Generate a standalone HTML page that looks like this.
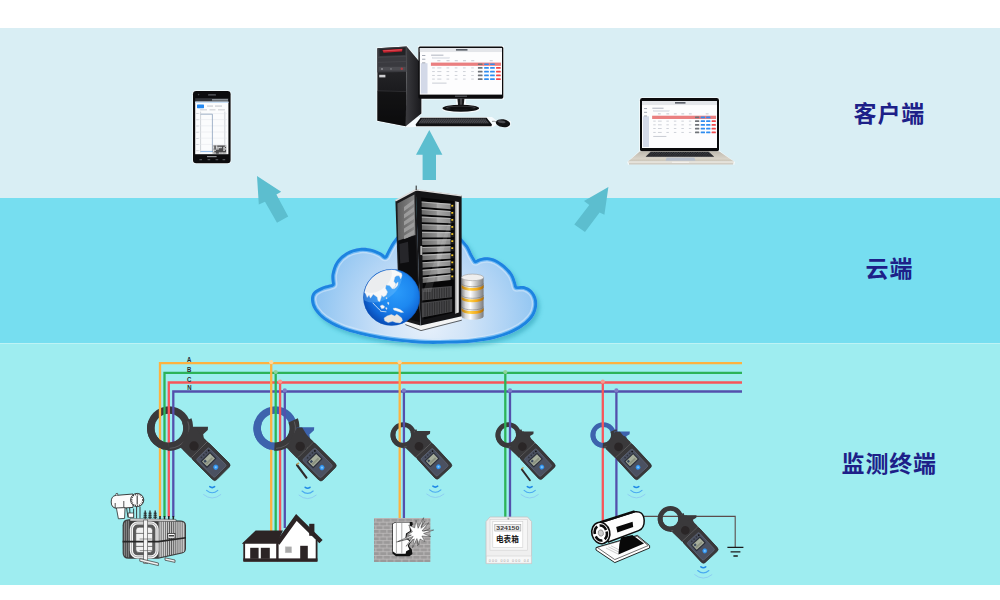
<!DOCTYPE html>
<html lang="zh"><head><meta charset="utf-8"><title>系统架构</title>
<style>
html,body{margin:0;padding:0;background:#fff;}
body{width:1000px;height:600px;overflow:hidden;position:relative;font-family:"Liberation Sans","Noto Sans CJK SC",sans-serif;}
.band{position:absolute;left:0;width:1000px;}
.b1{top:28px;height:170px;background:#d9eef4;}
.b2{top:198px;height:145px;background:#76def0;}
.b3{top:343px;height:242px;background:#9eedf0;}
svg{position:absolute;left:0;top:0;}
.lbl{position:absolute;color:#1d2088;font-weight:bold;font-size:23px;line-height:28px;white-space:nowrap;letter-spacing:0.8px;}
</style></head><body>
<div class="band b1"></div><div class="band b2"></div><div class="band b3"></div><div class="band" style="top:343px;height:1px;background:#bdf3f5"></div>
<svg width="1000" height="600" viewBox="0 0 1000 600" font-family="'Liberation Sans','Noto Sans CJK SC',sans-serif">
<defs>

<linearGradient id="gBody" x1="0" y1="0" x2="0" y2="1">
 <stop offset="0" stop-color="#444346"/><stop offset="1" stop-color="#343335"/>
</linearGradient>
<radialGradient id="gBtn" cx="0.5" cy="0.5" r="0.5">
 <stop offset="0" stop-color="#9fd6ff"/><stop offset="0.55" stop-color="#3d9df2"/><stop offset="1" stop-color="#2c86e0"/>
</radialGradient>
<radialGradient id="gCloud" gradientUnits="userSpaceOnUse" cx="428" cy="318" r="122" fx="428" fy="326">
 <stop offset="0" stop-color="#e6f0fb"/><stop offset="0.3" stop-color="#d3e5f8"/><stop offset="0.62" stop-color="#b1d4f5"/><stop offset="0.85" stop-color="#97c8f2"/><stop offset="1" stop-color="#88bff0"/>
</radialGradient>
<radialGradient id="gGlobe" gradientUnits="userSpaceOnUse" cx="396" cy="292" r="34">
 <stop offset="0" stop-color="#2b9bfa"/><stop offset="0.5" stop-color="#1d88f0"/><stop offset="0.82" stop-color="#0f66d6"/><stop offset="1" stop-color="#0a4fb8"/>
</radialGradient>
<linearGradient id="gDb" x1="0" y1="0" x2="1" y2="0">
 <stop offset="0" stop-color="#8a8a8a"/><stop offset="0.18" stop-color="#d8d8d8"/><stop offset="0.4" stop-color="#ffffff"/><stop offset="0.7" stop-color="#bdbdbd"/><stop offset="1" stop-color="#7c7c7c"/>
</linearGradient>
<linearGradient id="gGold" x1="0" y1="0" x2="1" y2="0">
 <stop offset="0" stop-color="#b87a10"/><stop offset="0.35" stop-color="#ffd24a"/><stop offset="0.7" stop-color="#f2a818"/><stop offset="1" stop-color="#a86c0c"/>
</linearGradient>
<linearGradient id="gTower" x1="0" y1="0" x2="0" y2="1">
 <stop offset="0" stop-color="#2e2e31"/><stop offset="0.5" stop-color="#1d1d20"/><stop offset="1" stop-color="#0c0c0e"/>
</linearGradient>
<linearGradient id="gTowerSide" x1="0" y1="0" x2="1" y2="0">
 <stop offset="0" stop-color="#3a3a3e"/><stop offset="1" stop-color="#18181b"/>
</linearGradient>
<linearGradient id="gLapBase" x1="0" y1="0" x2="0" y2="1">
 <stop offset="0" stop-color="#bdb8ae"/><stop offset="0.7" stop-color="#d8d3c8"/><stop offset="1" stop-color="#c9c3b6"/>
</linearGradient>
<linearGradient id="gUnit" x1="0" y1="0" x2="1" y2="0">
 <stop offset="0" stop-color="#6a6a6a"/><stop offset="0.5" stop-color="#8e8e8e"/><stop offset="0.55" stop-color="#a9a9a9"/><stop offset="1" stop-color="#8a8a8a"/>
</linearGradient>
<linearGradient id="gSideGlass" x1="0" y1="0" x2="1" y2="0">
 <stop offset="0" stop-color="#5e5e5e"/><stop offset="1" stop-color="#8a8a8a"/>
</linearGradient>
<pattern id="brick" x="374" y="518" width="7.4" height="7.4" patternUnits="userSpaceOnUse">
 <rect width="7.4" height="7.4" fill="#9b9999"/>
 <path d="M0 0.4H7.4M0 4.1H7.4M1.8 0.4V4.1M5.5 4.1V7.4" stroke="#bfbdbd" stroke-width="0.8" fill="none"/>
</pattern>
<pattern id="fins" x="158.6" y="0" width="2.1" height="10" patternUnits="userSpaceOnUse">
 <rect width="2.1" height="10" fill="#d2d2d2"/><rect width="0.9" height="10" fill="#555"/>
</pattern>


<g id="cbody">
 <g transform="rotate(45)">
  <rect x="-6" y="-12.7" width="44.5" height="23.3" rx="3" fill="#3a393b"/>
  <rect x="6.5" y="-12.7" width="33.4" height="23.3" rx="3" fill="#39383a" stroke="#2c2a2b" stroke-width="0.6"/>
  <line x1="6.4" y1="-11.8" x2="6.4" y2="9.8" stroke="#9a9a9a" stroke-width="0.6" stroke-dasharray="1 0.5"/>
  <rect x="11.2" y="-9.3" width="25.6" height="17.4" rx="1.6" fill="#4b5161" stroke="#62697a" stroke-width="0.7"/>
  <rect x="15.4" y="-7.2" width="9.4" height="13.6" rx="0.6" fill="#2b2f39"/>
  <rect x="16.6" y="-6" width="7" height="11.2" fill="#a7ae9c"/>
  <rect x="17.4" y="1.6" width="2.4" height="2.6" fill="#3b4a5e"/><rect x="20.4" y="-4.6" width="2" height="8.8" fill="#8a917f"/>
  
  <circle cx="13.3" cy="-4" r="0.9" fill="#30333c"/><circle cx="13.3" cy="-0.6" r="0.9" fill="#30333c"/><circle cx="13.3" cy="2.8" r="0.9" fill="#30333c"/>
  <circle cx="13.6" cy="-7.2" r="0.9" fill="#111"/>
  <circle cx="30.4" cy="-0.4" r="2.6" fill="url(#gBtn)"/>
 </g>
 <circle cx="0" cy="0" r="4.7" fill="#2a2627"/>
</g>
<path id="neckB" d="M -3 -19 L 2 -19 L 10 -6 L 12 -6 L -3.5 11.5 L -13.8 1.2 Z" fill="#3a393b"/>
<path id="trigB" d="M -3.4 -19.2 L 14 -19.2 L 13.8 -16.3 L 9.2 -11.8 L 10 -6.5 L 12.2 -5.8 L 4 0 L -6 -8 Z"/>
<path id="neckS" d="M -3.6 -15 L 2 -15 L 10 -6 L 12 -6 L -3.5 11.5 L -13.1 1.9 Z" fill="#3a393b"/>
<path id="trigS" d="M -3.8 -15.2 L 11 -15.2 L 10.9 -12.6 L 8.4 -10 L 9.6 -6.4 L 12.2 -5.8 L 4 0 L -6 -8 Z"/>
<g id="sig" fill="none" stroke-linecap="round">
 <path d="M 15.8 40.7 Q 18.2 42.5 20.6 40.7" stroke="#1f88e6" stroke-width="1.6"/>
 <path d="M 12.6 44.4 Q 18.2 49.2 23.8 44.4" stroke="#4aaaf0" stroke-width="1.1"/>
 <path d="M 9.6 48.6 Q 18.2 55.6 26.8 48.6" stroke="#8ccaf2" stroke-width="0.9"/>
</g>
<g id="ant"><path d="M -3.2 18.6 L 6.2 31.2" stroke="#2d2a2b" stroke-width="2.2" stroke-linecap="round"/><path d="M -3.6 18.2 L -1.2 16.4" stroke="#b79a55" stroke-width="1.6"/></g>
</defs>
<polygon points="257,176 281.2,191.8 276.4,194.6 288.2,216.4 277,222.8 265,201.8 258.8,204.4" fill="#5cbecf"/>
<polygon points="429.3,130 442.4,154.8 436,154.8 436,180 422.6,180 422.6,154.8 416,154.8" fill="#5cbecf"/>
<polygon points="608.4,187 604.4,214.8 599.6,212.4 585,232 574.3,224.4 589.3,205 584,201" fill="#5cbecf"/>
<g id="phone">
<rect x="192.3" y="90.3" width="39" height="73.6" rx="3.6" fill="#f4fbfd"/>
<rect x="193" y="91" width="37.6" height="72.2" rx="3.2" fill="#0c0c0e"/>
<rect x="195.2" y="98.2" width="33.2" height="3.4" fill="#33363b"/>
<rect x="212" y="99" width="16" height="1.6" fill="#8e9499"/>
<rect x="195.2" y="101.6" width="33.2" height="52.6" fill="#fbfcfd"/>
<rect x="195.2" y="101.6" width="33.2" height="1.4" fill="#c8dff5"/>
<rect x="197" y="104.4" width="7" height="3.8" rx="0.6" fill="#2389f2"/>
<rect x="207" y="105.6" width="6" height="0.9" fill="#b8bcc4"/><rect x="215" y="105.6" width="7" height="0.9" fill="#b8bcc4"/>
<rect x="200" y="109.4" width="7" height="0.9" fill="#c2c6cc"/><rect x="209.5" y="109.4" width="6" height="0.9" fill="#c2c6cc"/><rect x="218" y="109.4" width="7" height="0.9" fill="#c2c6cc"/>
<path d="M200.6 111.6V152.4M224.8 111.6V152.4" stroke="#b4b8bf" stroke-width="0.6" fill="none"/>
<path d="M198 113.6H227M198 119.6H227M198 125.8H227M198 132H227M198 138.2H227M198 144.4H227M198 150.6H227" stroke="#e3e6ea" stroke-width="0.5" fill="none"/>
<path d="M200.6 114.2H212.4V152" stroke="#8da2bd" stroke-width="0.8" fill="none"/>
<path d="M200.6 151.6H213" stroke="#5b9be0" stroke-width="0.7" fill="none"/>
<rect x="196.2" y="113.2" width="2.4" height="0.8" fill="#c6cad0"/>
<rect x="196.2" y="119.4" width="2.4" height="0.8" fill="#c6cad0"/>
<rect x="196.2" y="125.6" width="2.4" height="0.8" fill="#c6cad0"/>
<rect x="196.2" y="131.8" width="2.4" height="0.8" fill="#c6cad0"/>
<rect x="196.2" y="138.0" width="2.4" height="0.8" fill="#c6cad0"/>
<rect x="196.2" y="144.2" width="2.4" height="0.8" fill="#c6cad0"/>
<rect x="196.2" y="150.4" width="2.4" height="0.8" fill="#c6cad0"/>
<rect x="212.8" y="145.4" width="13.4" height="8.4" fill="#4a4a4c"/>
<rect x="212.8" y="145.4" width="1.5" height="1.4" fill="#d8d8d8"/><rect x="212.8" y="146.8" width="1.5" height="1.4" fill="#d8d8d8"/><rect x="212.8" y="148.2" width="1.5" height="1.4" fill="#d8d8d8"/><rect x="212.8" y="149.6" width="1.5" height="1.4" fill="#d8d8d8"/><rect x="212.8" y="151.0" width="1.5" height="1.4" fill="#d8d8d8"/><rect x="212.8" y="152.4" width="1.5" height="1.4" fill="#d8d8d8"/><rect x="214.3" y="149.6" width="1.5" height="1.4" fill="#d8d8d8"/><rect x="214.3" y="152.4" width="1.5" height="1.4" fill="#d8d8d8"/><rect x="215.8" y="145.4" width="1.5" height="1.4" fill="#d8d8d8"/><rect x="215.8" y="146.8" width="1.5" height="1.4" fill="#d8d8d8"/><rect x="215.8" y="148.2" width="1.5" height="1.4" fill="#d8d8d8"/><rect x="217.3" y="146.8" width="1.5" height="1.4" fill="#d8d8d8"/><rect x="217.3" y="148.2" width="1.5" height="1.4" fill="#d8d8d8"/><rect x="218.8" y="146.8" width="1.5" height="1.4" fill="#d8d8d8"/><rect x="218.8" y="152.4" width="1.5" height="1.4" fill="#d8d8d8"/><rect x="220.3" y="146.8" width="1.5" height="1.4" fill="#d8d8d8"/><rect x="220.3" y="152.4" width="1.5" height="1.4" fill="#d8d8d8"/><rect x="221.8" y="152.4" width="1.5" height="1.4" fill="#d8d8d8"/><rect x="223.3" y="146.8" width="1.5" height="1.4" fill="#d8d8d8"/><rect x="223.3" y="148.2" width="1.5" height="1.4" fill="#d8d8d8"/><rect x="223.3" y="149.6" width="1.5" height="1.4" fill="#d8d8d8"/><rect x="223.3" y="152.4" width="1.5" height="1.4" fill="#d8d8d8"/><rect x="224.8" y="145.4" width="1.5" height="1.4" fill="#d8d8d8"/><rect x="224.8" y="148.2" width="1.5" height="1.4" fill="#d8d8d8"/><rect x="224.8" y="152.4" width="1.5" height="1.4" fill="#d8d8d8"/>
<rect x="207" y="156" width="9.6" height="1.2" fill="#8f9296"/>
<rect x="199.4" y="159.2" width="2.6" height="1" fill="#5e6166"/><rect x="207.6" y="159.2" width="2.6" height="1" fill="#5e6166"/><rect x="215.6" y="159.2" width="2.6" height="1" fill="#5e6166"/><rect x="222.6" y="159.2" width="2.6" height="1" fill="#5e6166"/>
<rect x="208" y="94.2" width="8" height="1.3" rx="0.6" fill="#5c5f64"/><circle cx="198.6" cy="94.6" r="0.8" fill="#45484d"/>
</g>
<g id="pc">
<path d="M376.6 47.4 L407 45.6 L418 59 L418 45.8 L504 45.8 L504 99.4 L466 99.4 L466 104 Q480 106 480 109 Q480 112.6 461 113 Q442 112.6 442 109 Q442 106.4 456 104.6 L456 99.4 L422.2 99.4 L422.2 113.8 L418 117 L492 117 L497 121 Q503 118 510.6 121 Q512 125 509 127.6 Q502 128.6 496.4 125 L493 127 L415 127 L407 127.2 L376.6 121.4 Z" fill="#f6fbfd"/>
<polygon points="406.7,46.5 421.4,64 421.4,113.4 405.8,126.2" fill="url(#gTowerSide)"/>
<polygon points="377.4,48.3 406.7,46.5 405.8,126.2 377.4,120.7" fill="url(#gTower)"/>
<polygon points="377.4,48.3 406.7,46.5 406.4,72 377.4,72.6" fill="#3a3a3f"/>
<polygon points="379.4,49.2 405.4,47.6 405.2,55 379.6,56" fill="#232326"/>
<polygon points="382.4,49.9 402.6,48.7 402,51.6 383.6,52.8" fill="#bf1f2b"/>
<polygon points="383.2,50.4 402,49.3 401.8,50.2 383.5,51.3" fill="#e0505a"/>
<path d="M377.6 57.4L406.4 56.2M377.6 62.4L406.4 61.4M377.6 91L406.2 91.6" stroke="#4b4b50" stroke-width="0.6" fill="none"/>
<rect x="378.6" y="66.8" width="27" height="3.8" fill="#4c4c51"/>
<circle cx="382" cy="68.9" r="1" fill="#8d8d92"/><circle cx="391" cy="68.9" r="0.9" fill="#77777c"/><circle cx="401.8" cy="68.7" r="1.2" fill="#b33a40"/>
<rect x="379.2" y="74.8" width="6.2" height="2.6" fill="#cfcfd2"/>
<polygon points="377.4,91 406.1,91.6 405.8,126.2 377.4,120.7" fill="#0a0a0c" opacity="0.45"/>
<rect x="418.4" y="46.5" width="84.9" height="52.2" rx="1.6" fill="#0b0b0d"/>
<rect x="419.8" y="48" width="82.2" height="46.6" fill="#fdfdfe"/>
<rect x="419.8" y="48" width="82.2" height="4.05" fill="#e4e6ea"/>
<rect x="455.97" y="49.01" width="11.51" height="1.62" fill="#5a5f68"/>
<rect x="420.83" y="63.20" width="6.68" height="30.39" fill="#d3d9e8"/>
<rect x="422.06" y="55.09" width="3.29" height="0.91" fill="#9aa0ac"/>
<rect x="422.06" y="58.74" width="3.29" height="0.91" fill="#9aa0ac"/>
<rect x="422.06" y="62.39" width="3.29" height="0.91" fill="#9aa0ac"/>
<rect x="431.10" y="54.69" width="12.33" height="0.91" fill="#a8adb8"/>
<rect x="432.13" y="57.12" width="17.47" height="1.62" fill="#eef0f4" stroke="#c9ced8" stroke-width="0.3"/>
<rect x="437.27" y="60.36" width="3.08" height="0.81" fill="#b9bdc6"/>
<rect x="446.51" y="60.36" width="3.08" height="0.81" fill="#b9bdc6"/>
<rect x="454.74" y="60.36" width="3.08" height="0.81" fill="#b9bdc6"/>
<rect x="462.96" y="60.36" width="3.08" height="0.81" fill="#b9bdc6"/>
<rect x="471.18" y="60.36" width="3.08" height="0.81" fill="#b9bdc6"/>
<rect x="489.67" y="60.36" width="3.08" height="0.81" fill="#b9bdc6"/>
<rect x="430.90" y="62.59" width="70.08" height="3.24" fill="#ea7f80"/>
<rect x="477.85" y="63.40" width="4.73" height="1.72" rx="0.5" fill="#6f7378"/>
<rect x="484.12" y="63.40" width="4.73" height="1.72" rx="0.5" fill="#2f8df0"/>
<rect x="490.08" y="63.40" width="4.73" height="1.72" rx="0.5" fill="#2f8df0"/>
<rect x="477.85" y="67.12" width="4.73" height="1.72" rx="0.5" fill="#6f7378"/>
<rect x="484.12" y="67.12" width="4.73" height="1.72" rx="0.5" fill="#2f8df0"/>
<rect x="490.08" y="67.12" width="4.73" height="1.72" rx="0.5" fill="#2f8df0"/>
<rect x="496.04" y="67.12" width="4.73" height="1.72" rx="0.5" fill="#f2474a"/>
<rect x="432.13" y="67.52" width="2.67" height="0.81" fill="#c4c8d0"/>
<rect x="437.27" y="67.52" width="4.11" height="0.81" fill="#c4c8d0"/>
<rect x="446.51" y="67.52" width="2.67" height="0.81" fill="#c4c8d0"/>
<rect x="454.74" y="67.52" width="2.67" height="0.81" fill="#c4c8d0"/>
<rect x="462.96" y="67.52" width="2.67" height="0.81" fill="#c4c8d0"/>
<rect x="471.18" y="67.52" width="2.67" height="0.81" fill="#c4c8d0"/>
<rect x="477.85" y="70.83" width="4.73" height="1.72" rx="0.5" fill="#6f7378"/>
<rect x="484.12" y="70.83" width="4.73" height="1.72" rx="0.5" fill="#2f8df0"/>
<rect x="490.08" y="70.83" width="4.73" height="1.72" rx="0.5" fill="#2f8df0"/>
<rect x="496.04" y="70.83" width="4.73" height="1.72" rx="0.5" fill="#f2474a"/>
<rect x="432.13" y="71.24" width="2.67" height="0.81" fill="#c4c8d0"/>
<rect x="437.27" y="71.24" width="4.11" height="0.81" fill="#c4c8d0"/>
<rect x="446.51" y="71.24" width="2.67" height="0.81" fill="#c4c8d0"/>
<rect x="454.74" y="71.24" width="2.67" height="0.81" fill="#c4c8d0"/>
<rect x="462.96" y="71.24" width="2.67" height="0.81" fill="#c4c8d0"/>
<rect x="471.18" y="71.24" width="2.67" height="0.81" fill="#c4c8d0"/>
<rect x="477.85" y="74.55" width="4.73" height="1.72" rx="0.5" fill="#6f7378"/>
<rect x="484.12" y="74.55" width="4.73" height="1.72" rx="0.5" fill="#2f8df0"/>
<rect x="490.08" y="74.55" width="4.73" height="1.72" rx="0.5" fill="#2f8df0"/>
<rect x="496.04" y="74.55" width="4.73" height="1.72" rx="0.5" fill="#f2474a"/>
<rect x="432.13" y="74.96" width="2.67" height="0.81" fill="#c4c8d0"/>
<rect x="437.27" y="74.96" width="4.11" height="0.81" fill="#c4c8d0"/>
<rect x="446.51" y="74.96" width="2.67" height="0.81" fill="#c4c8d0"/>
<rect x="454.74" y="74.96" width="2.67" height="0.81" fill="#c4c8d0"/>
<rect x="462.96" y="74.96" width="2.67" height="0.81" fill="#c4c8d0"/>
<rect x="471.18" y="74.96" width="2.67" height="0.81" fill="#c4c8d0"/>
<rect x="477.85" y="78.27" width="4.73" height="1.72" rx="0.5" fill="#6f7378"/>
<rect x="484.12" y="78.27" width="4.73" height="1.72" rx="0.5" fill="#2f8df0"/>
<rect x="490.08" y="78.27" width="4.73" height="1.72" rx="0.5" fill="#2f8df0"/>
<rect x="496.04" y="78.27" width="4.73" height="1.72" rx="0.5" fill="#f2474a"/>
<rect x="432.13" y="78.67" width="2.67" height="0.81" fill="#c4c8d0"/>
<rect x="437.27" y="78.67" width="4.11" height="0.81" fill="#c4c8d0"/>
<rect x="446.51" y="78.67" width="2.67" height="0.81" fill="#c4c8d0"/>
<rect x="454.74" y="78.67" width="2.67" height="0.81" fill="#c4c8d0"/>
<rect x="462.96" y="78.67" width="2.67" height="0.81" fill="#c4c8d0"/>
<rect x="471.18" y="78.67" width="2.67" height="0.81" fill="#c4c8d0"/>
<rect x="432.13" y="82.65" width="14.39" height="0.91" fill="#c4c8d0"/>
<rect x="455" y="95.6" width="12" height="1.2" fill="#55585d"/>
<polygon points="457.4,98.6 464.4,98.6 463.6,106.4 458.2,106.4" fill="#1a1a1c"/>
<polygon points="460.2,98.6 461.8,98.6 461.6,106.4 460.4,106.4" fill="#5a5a5e"/>
<ellipse cx="460.8" cy="108.3" rx="18.3" ry="3.5" fill="#0e0e10"/>
<ellipse cx="460.8" cy="107.5" rx="15" ry="1.7" fill="#3a3a3e"/>
<ellipse cx="460.8" cy="108" rx="13" ry="1.5" fill="#0e0e10"/>
<polygon points="415.6,124.4 420.6,117.8 486.6,117.8 492,124.4 491.4,126.2 416.2,126.2" fill="#111113"/>
<polygon points="418.4,123.6 422,118.6 485.4,118.6 489,123.6" fill="#2c2c30"/>
<path d="M421.4 119.1H486.0" stroke="#6c6c72" stroke-width="0.5" stroke-dasharray="1.5 0.7"/><path d="M420.6 120.3H486.8" stroke="#6c6c72" stroke-width="0.5" stroke-dasharray="1.5 0.7"/><path d="M419.8 121.5H487.6" stroke="#6c6c72" stroke-width="0.5" stroke-dasharray="1.5 0.7"/><path d="M419.0 122.7H488.4" stroke="#6c6c72" stroke-width="0.5" stroke-dasharray="1.5 0.7"/>
<path d="M492 121.4 Q494.4 120.8 496.4 122" stroke="#333" stroke-width="0.5" fill="none"/>
<ellipse cx="503" cy="123.2" rx="7.2" ry="3.9" fill="#111113" transform="rotate(8 503 123.2)"/>
<ellipse cx="501.6" cy="121.8" rx="4" ry="1.3" fill="#4a4a4f" transform="rotate(8 501.6 121.8)"/>
</g>
<g id="laptop">
<path d="M639.2 100 Q639.2 97.2 642 97.2 L717 97.2 Q719.8 97.2 719.8 100 L719.8 151 L735 162 L734.4 164.8 L628 164.8 L627.2 162 L639.2 151 Z" fill="#f4fafc"/>
<rect x="640" y="98" width="79" height="53.6" rx="2.4" fill="#0b0b0d"/>
<rect x="642" y="101" width="75" height="47" fill="#fdfdfe"/>
<rect x="642" y="101" width="75" height="4.09" fill="#e4e6ea"/>
<rect x="675.00" y="102.02" width="10.50" height="1.63" fill="#5a5f68"/>
<rect x="642.94" y="116.33" width="6.09" height="30.65" fill="#d3d9e8"/>
<rect x="644.06" y="108.15" width="3.00" height="0.92" fill="#9aa0ac"/>
<rect x="644.06" y="111.83" width="3.00" height="0.92" fill="#9aa0ac"/>
<rect x="644.06" y="115.51" width="3.00" height="0.92" fill="#9aa0ac"/>
<rect x="652.31" y="107.74" width="11.25" height="0.92" fill="#a8adb8"/>
<rect x="653.25" y="110.20" width="15.94" height="1.63" fill="#eef0f4" stroke="#c9ced8" stroke-width="0.3"/>
<rect x="657.94" y="113.47" width="2.81" height="0.82" fill="#b9bdc6"/>
<rect x="666.38" y="113.47" width="2.81" height="0.82" fill="#b9bdc6"/>
<rect x="673.88" y="113.47" width="2.81" height="0.82" fill="#b9bdc6"/>
<rect x="681.38" y="113.47" width="2.81" height="0.82" fill="#b9bdc6"/>
<rect x="688.88" y="113.47" width="2.81" height="0.82" fill="#b9bdc6"/>
<rect x="705.75" y="113.47" width="2.81" height="0.82" fill="#b9bdc6"/>
<rect x="652.12" y="115.71" width="63.94" height="3.27" fill="#ea7f80"/>
<rect x="694.97" y="116.53" width="4.31" height="1.74" rx="0.5" fill="#6f7378"/>
<rect x="700.69" y="116.53" width="4.31" height="1.74" rx="0.5" fill="#2f8df0"/>
<rect x="706.12" y="116.53" width="4.31" height="1.74" rx="0.5" fill="#2f8df0"/>
<rect x="694.97" y="120.28" width="4.31" height="1.74" rx="0.5" fill="#6f7378"/>
<rect x="700.69" y="120.28" width="4.31" height="1.74" rx="0.5" fill="#2f8df0"/>
<rect x="706.12" y="120.28" width="4.31" height="1.74" rx="0.5" fill="#2f8df0"/>
<rect x="711.56" y="120.28" width="4.31" height="1.74" rx="0.5" fill="#f2474a"/>
<rect x="653.25" y="120.69" width="2.44" height="0.82" fill="#c4c8d0"/>
<rect x="657.94" y="120.69" width="3.75" height="0.82" fill="#c4c8d0"/>
<rect x="666.38" y="120.69" width="2.44" height="0.82" fill="#c4c8d0"/>
<rect x="673.88" y="120.69" width="2.44" height="0.82" fill="#c4c8d0"/>
<rect x="681.38" y="120.69" width="2.44" height="0.82" fill="#c4c8d0"/>
<rect x="688.88" y="120.69" width="2.44" height="0.82" fill="#c4c8d0"/>
<rect x="694.97" y="124.03" width="4.31" height="1.74" rx="0.5" fill="#6f7378"/>
<rect x="700.69" y="124.03" width="4.31" height="1.74" rx="0.5" fill="#2f8df0"/>
<rect x="706.12" y="124.03" width="4.31" height="1.74" rx="0.5" fill="#2f8df0"/>
<rect x="711.56" y="124.03" width="4.31" height="1.74" rx="0.5" fill="#f2474a"/>
<rect x="653.25" y="124.44" width="2.44" height="0.82" fill="#c4c8d0"/>
<rect x="657.94" y="124.44" width="3.75" height="0.82" fill="#c4c8d0"/>
<rect x="666.38" y="124.44" width="2.44" height="0.82" fill="#c4c8d0"/>
<rect x="673.88" y="124.44" width="2.44" height="0.82" fill="#c4c8d0"/>
<rect x="681.38" y="124.44" width="2.44" height="0.82" fill="#c4c8d0"/>
<rect x="688.88" y="124.44" width="2.44" height="0.82" fill="#c4c8d0"/>
<rect x="694.97" y="127.78" width="4.31" height="1.74" rx="0.5" fill="#6f7378"/>
<rect x="700.69" y="127.78" width="4.31" height="1.74" rx="0.5" fill="#2f8df0"/>
<rect x="706.12" y="127.78" width="4.31" height="1.74" rx="0.5" fill="#2f8df0"/>
<rect x="711.56" y="127.78" width="4.31" height="1.74" rx="0.5" fill="#f2474a"/>
<rect x="653.25" y="128.19" width="2.44" height="0.82" fill="#c4c8d0"/>
<rect x="657.94" y="128.19" width="3.75" height="0.82" fill="#c4c8d0"/>
<rect x="666.38" y="128.19" width="2.44" height="0.82" fill="#c4c8d0"/>
<rect x="673.88" y="128.19" width="2.44" height="0.82" fill="#c4c8d0"/>
<rect x="681.38" y="128.19" width="2.44" height="0.82" fill="#c4c8d0"/>
<rect x="688.88" y="128.19" width="2.44" height="0.82" fill="#c4c8d0"/>
<rect x="694.97" y="131.53" width="4.31" height="1.74" rx="0.5" fill="#6f7378"/>
<rect x="700.69" y="131.53" width="4.31" height="1.74" rx="0.5" fill="#2f8df0"/>
<rect x="706.12" y="131.53" width="4.31" height="1.74" rx="0.5" fill="#2f8df0"/>
<rect x="711.56" y="131.53" width="4.31" height="1.74" rx="0.5" fill="#f2474a"/>
<rect x="653.25" y="131.94" width="2.44" height="0.82" fill="#c4c8d0"/>
<rect x="657.94" y="131.94" width="3.75" height="0.82" fill="#c4c8d0"/>
<rect x="666.38" y="131.94" width="2.44" height="0.82" fill="#c4c8d0"/>
<rect x="673.88" y="131.94" width="2.44" height="0.82" fill="#c4c8d0"/>
<rect x="681.38" y="131.94" width="2.44" height="0.82" fill="#c4c8d0"/>
<rect x="688.88" y="131.94" width="2.44" height="0.82" fill="#c4c8d0"/>
<rect x="653.25" y="135.94" width="13.12" height="0.92" fill="#c4c8d0"/>
<polygon points="640,151.2 719,151.2 734,161.6 628,161.6" fill="url(#gLapBase)"/>
<polygon points="628,161.6 734,161.6 733.2,164 629,164" fill="#e6e2da"/>
<path d="M629 164H733.2" stroke="#a39d92" stroke-width="0.6"/>
<polygon points="650.6,151.8 708.6,151.8 714.2,156.8 645.6,156.8" fill="#1d1d20"/>
<path d="M650.0 152.5H709.4" stroke="#5d6068" stroke-width="0.5" stroke-dasharray="1.6 0.8"/><path d="M648.9 153.7H710.5" stroke="#5d6068" stroke-width="0.5" stroke-dasharray="1.6 0.8"/><path d="M647.8 154.9H711.6" stroke="#5d6068" stroke-width="0.5" stroke-dasharray="1.6 0.8"/><path d="M646.7 156.1H712.7" stroke="#5d6068" stroke-width="0.5" stroke-dasharray="1.6 0.8"/>
<polygon points="666.6,157.6 694.4,157.6 695.4,160.8 665.6,160.8" fill="#b7bfcc"/>
<rect x="672" y="161.8" width="17" height="0.9" fill="#f8f6f2"/>
</g>
<filter id="blur3" x="-10%" y="-10%" width="120%" height="130%"><feGaussianBlur stdDeviation="2.2"/></filter>
<path d="M 332.0 284.0 C 331.9 282.3 330.9 277.7 331.6 274.0 C 332.3 270.3 333.6 265.6 336.0 262.0 C 338.4 258.4 342.0 254.7 346.0 252.4 C 350.0 250.1 355.7 248.6 360.0 248.0 C 364.3 247.4 368.5 248.2 372.0 249.0 C 375.5 249.8 378.8 251.5 381.0 252.6 C 383.2 253.7 384.3 255.3 385.0 255.8 C 385.7 254.5 387.5 250.6 389.0 248.0 C 390.5 245.4 391.7 242.9 394.0 240.0 C 396.3 237.1 399.5 233.2 403.0 230.6 C 406.5 228.0 410.5 226.0 415.0 224.6 C 419.5 223.2 425.0 222.0 430.0 222.0 C 435.0 222.0 440.8 223.1 445.0 224.6 C 449.2 226.1 452.2 228.7 455.0 231.0 C 457.8 233.3 459.5 235.9 461.7 238.4 C 463.9 240.9 466.4 243.3 468.2 246.0 C 470.0 248.7 471.2 252.3 472.5 254.7 C 473.8 257.1 475.2 259.3 475.7 260.2 C 476.4 259.9 478.0 258.7 480.0 258.2 C 482.0 257.7 484.9 257.0 487.6 257.2 C 490.3 257.4 493.1 258.0 496.0 259.4 C 498.9 260.8 502.2 263.1 505.0 265.5 C 507.8 267.9 510.8 271.2 512.6 274.0 C 514.4 276.8 515.1 280.0 515.8 282.0 C 516.5 284.0 516.7 285.5 516.9 286.2 C 518.2 286.2 522.0 285.5 524.5 286.2 C 527.0 286.9 530.0 288.4 532.0 290.4 C 534.0 292.4 535.6 295.3 536.4 298.0 C 537.2 300.7 537.4 303.7 537.0 306.6 C 536.6 309.5 535.9 312.4 534.2 315.3 C 532.5 318.2 530.0 321.2 526.6 324.0 C 523.2 326.8 519.0 329.7 513.6 332.2 C 508.2 334.7 501.0 337.3 494.1 339.0 C 487.2 340.7 479.7 341.6 472.5 342.4 C 465.3 343.2 458.7 343.4 450.8 343.6 C 442.9 343.8 433.5 344.1 425.0 343.8 C 416.5 343.5 407.5 342.6 400.0 341.8 C 392.5 341.0 386.7 340.2 380.0 339.0 C 373.3 337.8 366.7 336.5 360.0 334.8 C 353.3 333.1 346.0 331.1 340.0 328.6 C 334.0 326.1 328.3 323.1 324.0 320.0 C 319.7 316.9 316.6 313.3 314.4 310.0 C 312.2 306.7 311.2 303.0 311.0 300.0 C 310.8 297.0 311.6 294.2 313.4 292.0 C 315.2 289.8 318.5 288.3 321.6 287.0 C 324.7 285.7 330.3 284.5 332.0 284.0 Z" fill="#2a9db4" opacity="0.55" filter="url(#blur3)" transform="translate(2.5 3.2)"/>
<clipPath id="cclip"><path d="M 332.0 284.0 C 331.9 282.3 330.9 277.7 331.6 274.0 C 332.3 270.3 333.6 265.6 336.0 262.0 C 338.4 258.4 342.0 254.7 346.0 252.4 C 350.0 250.1 355.7 248.6 360.0 248.0 C 364.3 247.4 368.5 248.2 372.0 249.0 C 375.5 249.8 378.8 251.5 381.0 252.6 C 383.2 253.7 384.3 255.3 385.0 255.8 C 385.7 254.5 387.5 250.6 389.0 248.0 C 390.5 245.4 391.7 242.9 394.0 240.0 C 396.3 237.1 399.5 233.2 403.0 230.6 C 406.5 228.0 410.5 226.0 415.0 224.6 C 419.5 223.2 425.0 222.0 430.0 222.0 C 435.0 222.0 440.8 223.1 445.0 224.6 C 449.2 226.1 452.2 228.7 455.0 231.0 C 457.8 233.3 459.5 235.9 461.7 238.4 C 463.9 240.9 466.4 243.3 468.2 246.0 C 470.0 248.7 471.2 252.3 472.5 254.7 C 473.8 257.1 475.2 259.3 475.7 260.2 C 476.4 259.9 478.0 258.7 480.0 258.2 C 482.0 257.7 484.9 257.0 487.6 257.2 C 490.3 257.4 493.1 258.0 496.0 259.4 C 498.9 260.8 502.2 263.1 505.0 265.5 C 507.8 267.9 510.8 271.2 512.6 274.0 C 514.4 276.8 515.1 280.0 515.8 282.0 C 516.5 284.0 516.7 285.5 516.9 286.2 C 518.2 286.2 522.0 285.5 524.5 286.2 C 527.0 286.9 530.0 288.4 532.0 290.4 C 534.0 292.4 535.6 295.3 536.4 298.0 C 537.2 300.7 537.4 303.7 537.0 306.6 C 536.6 309.5 535.9 312.4 534.2 315.3 C 532.5 318.2 530.0 321.2 526.6 324.0 C 523.2 326.8 519.0 329.7 513.6 332.2 C 508.2 334.7 501.0 337.3 494.1 339.0 C 487.2 340.7 479.7 341.6 472.5 342.4 C 465.3 343.2 458.7 343.4 450.8 343.6 C 442.9 343.8 433.5 344.1 425.0 343.8 C 416.5 343.5 407.5 342.6 400.0 341.8 C 392.5 341.0 386.7 340.2 380.0 339.0 C 373.3 337.8 366.7 336.5 360.0 334.8 C 353.3 333.1 346.0 331.1 340.0 328.6 C 334.0 326.1 328.3 323.1 324.0 320.0 C 319.7 316.9 316.6 313.3 314.4 310.0 C 312.2 306.7 311.2 303.0 311.0 300.0 C 310.8 297.0 311.6 294.2 313.4 292.0 C 315.2 289.8 318.5 288.3 321.6 287.0 C 324.7 285.7 330.3 284.5 332.0 284.0 Z"/></clipPath>
<path d="M 332.0 284.0 C 331.9 282.3 330.9 277.7 331.6 274.0 C 332.3 270.3 333.6 265.6 336.0 262.0 C 338.4 258.4 342.0 254.7 346.0 252.4 C 350.0 250.1 355.7 248.6 360.0 248.0 C 364.3 247.4 368.5 248.2 372.0 249.0 C 375.5 249.8 378.8 251.5 381.0 252.6 C 383.2 253.7 384.3 255.3 385.0 255.8 C 385.7 254.5 387.5 250.6 389.0 248.0 C 390.5 245.4 391.7 242.9 394.0 240.0 C 396.3 237.1 399.5 233.2 403.0 230.6 C 406.5 228.0 410.5 226.0 415.0 224.6 C 419.5 223.2 425.0 222.0 430.0 222.0 C 435.0 222.0 440.8 223.1 445.0 224.6 C 449.2 226.1 452.2 228.7 455.0 231.0 C 457.8 233.3 459.5 235.9 461.7 238.4 C 463.9 240.9 466.4 243.3 468.2 246.0 C 470.0 248.7 471.2 252.3 472.5 254.7 C 473.8 257.1 475.2 259.3 475.7 260.2 C 476.4 259.9 478.0 258.7 480.0 258.2 C 482.0 257.7 484.9 257.0 487.6 257.2 C 490.3 257.4 493.1 258.0 496.0 259.4 C 498.9 260.8 502.2 263.1 505.0 265.5 C 507.8 267.9 510.8 271.2 512.6 274.0 C 514.4 276.8 515.1 280.0 515.8 282.0 C 516.5 284.0 516.7 285.5 516.9 286.2 C 518.2 286.2 522.0 285.5 524.5 286.2 C 527.0 286.9 530.0 288.4 532.0 290.4 C 534.0 292.4 535.6 295.3 536.4 298.0 C 537.2 300.7 537.4 303.7 537.0 306.6 C 536.6 309.5 535.9 312.4 534.2 315.3 C 532.5 318.2 530.0 321.2 526.6 324.0 C 523.2 326.8 519.0 329.7 513.6 332.2 C 508.2 334.7 501.0 337.3 494.1 339.0 C 487.2 340.7 479.7 341.6 472.5 342.4 C 465.3 343.2 458.7 343.4 450.8 343.6 C 442.9 343.8 433.5 344.1 425.0 343.8 C 416.5 343.5 407.5 342.6 400.0 341.8 C 392.5 341.0 386.7 340.2 380.0 339.0 C 373.3 337.8 366.7 336.5 360.0 334.8 C 353.3 333.1 346.0 331.1 340.0 328.6 C 334.0 326.1 328.3 323.1 324.0 320.0 C 319.7 316.9 316.6 313.3 314.4 310.0 C 312.2 306.7 311.2 303.0 311.0 300.0 C 310.8 297.0 311.6 294.2 313.4 292.0 C 315.2 289.8 318.5 288.3 321.6 287.0 C 324.7 285.7 330.3 284.5 332.0 284.0 Z" fill="url(#gCloud)"/>
<g clip-path="url(#cclip)">
<path d="M 332.0 284.0 C 331.9 282.3 330.9 277.7 331.6 274.0 C 332.3 270.3 333.6 265.6 336.0 262.0 C 338.4 258.4 342.0 254.7 346.0 252.4 C 350.0 250.1 355.7 248.6 360.0 248.0 C 364.3 247.4 368.5 248.2 372.0 249.0 C 375.5 249.8 378.8 251.5 381.0 252.6 C 383.2 253.7 384.3 255.3 385.0 255.8 C 385.7 254.5 387.5 250.6 389.0 248.0 C 390.5 245.4 391.7 242.9 394.0 240.0 C 396.3 237.1 399.5 233.2 403.0 230.6 C 406.5 228.0 410.5 226.0 415.0 224.6 C 419.5 223.2 425.0 222.0 430.0 222.0 C 435.0 222.0 440.8 223.1 445.0 224.6 C 449.2 226.1 452.2 228.7 455.0 231.0 C 457.8 233.3 459.5 235.9 461.7 238.4 C 463.9 240.9 466.4 243.3 468.2 246.0 C 470.0 248.7 471.2 252.3 472.5 254.7 C 473.8 257.1 475.2 259.3 475.7 260.2 C 476.4 259.9 478.0 258.7 480.0 258.2 C 482.0 257.7 484.9 257.0 487.6 257.2 C 490.3 257.4 493.1 258.0 496.0 259.4 C 498.9 260.8 502.2 263.1 505.0 265.5 C 507.8 267.9 510.8 271.2 512.6 274.0 C 514.4 276.8 515.1 280.0 515.8 282.0 C 516.5 284.0 516.7 285.5 516.9 286.2 C 518.2 286.2 522.0 285.5 524.5 286.2 C 527.0 286.9 530.0 288.4 532.0 290.4 C 534.0 292.4 535.6 295.3 536.4 298.0 C 537.2 300.7 537.4 303.7 537.0 306.6 C 536.6 309.5 535.9 312.4 534.2 315.3 C 532.5 318.2 530.0 321.2 526.6 324.0 C 523.2 326.8 519.0 329.7 513.6 332.2 C 508.2 334.7 501.0 337.3 494.1 339.0 C 487.2 340.7 479.7 341.6 472.5 342.4 C 465.3 343.2 458.7 343.4 450.8 343.6 C 442.9 343.8 433.5 344.1 425.0 343.8 C 416.5 343.5 407.5 342.6 400.0 341.8 C 392.5 341.0 386.7 340.2 380.0 339.0 C 373.3 337.8 366.7 336.5 360.0 334.8 C 353.3 333.1 346.0 331.1 340.0 328.6 C 334.0 326.1 328.3 323.1 324.0 320.0 C 319.7 316.9 316.6 313.3 314.4 310.0 C 312.2 306.7 311.2 303.0 311.0 300.0 C 310.8 297.0 311.6 294.2 313.4 292.0 C 315.2 289.8 318.5 288.3 321.6 287.0 C 324.7 285.7 330.3 284.5 332.0 284.0 Z" fill="none" stroke="#d6eafc" stroke-width="11" stroke-linejoin="round" opacity="0.55"/>
<path d="M 332.0 284.0 C 331.9 282.3 330.9 277.7 331.6 274.0 C 332.3 270.3 333.6 265.6 336.0 262.0 C 338.4 258.4 342.0 254.7 346.0 252.4 C 350.0 250.1 355.7 248.6 360.0 248.0 C 364.3 247.4 368.5 248.2 372.0 249.0 C 375.5 249.8 378.8 251.5 381.0 252.6 C 383.2 253.7 384.3 255.3 385.0 255.8 C 385.7 254.5 387.5 250.6 389.0 248.0 C 390.5 245.4 391.7 242.9 394.0 240.0 C 396.3 237.1 399.5 233.2 403.0 230.6 C 406.5 228.0 410.5 226.0 415.0 224.6 C 419.5 223.2 425.0 222.0 430.0 222.0 C 435.0 222.0 440.8 223.1 445.0 224.6 C 449.2 226.1 452.2 228.7 455.0 231.0 C 457.8 233.3 459.5 235.9 461.7 238.4 C 463.9 240.9 466.4 243.3 468.2 246.0 C 470.0 248.7 471.2 252.3 472.5 254.7 C 473.8 257.1 475.2 259.3 475.7 260.2 C 476.4 259.9 478.0 258.7 480.0 258.2 C 482.0 257.7 484.9 257.0 487.6 257.2 C 490.3 257.4 493.1 258.0 496.0 259.4 C 498.9 260.8 502.2 263.1 505.0 265.5 C 507.8 267.9 510.8 271.2 512.6 274.0 C 514.4 276.8 515.1 280.0 515.8 282.0 C 516.5 284.0 516.7 285.5 516.9 286.2 C 518.2 286.2 522.0 285.5 524.5 286.2 C 527.0 286.9 530.0 288.4 532.0 290.4 C 534.0 292.4 535.6 295.3 536.4 298.0 C 537.2 300.7 537.4 303.7 537.0 306.6 C 536.6 309.5 535.9 312.4 534.2 315.3 C 532.5 318.2 530.0 321.2 526.6 324.0 C 523.2 326.8 519.0 329.7 513.6 332.2 C 508.2 334.7 501.0 337.3 494.1 339.0 C 487.2 340.7 479.7 341.6 472.5 342.4 C 465.3 343.2 458.7 343.4 450.8 343.6 C 442.9 343.8 433.5 344.1 425.0 343.8 C 416.5 343.5 407.5 342.6 400.0 341.8 C 392.5 341.0 386.7 340.2 380.0 339.0 C 373.3 337.8 366.7 336.5 360.0 334.8 C 353.3 333.1 346.0 331.1 340.0 328.6 C 334.0 326.1 328.3 323.1 324.0 320.0 C 319.7 316.9 316.6 313.3 314.4 310.0 C 312.2 306.7 311.2 303.0 311.0 300.0 C 310.8 297.0 311.6 294.2 313.4 292.0 C 315.2 289.8 318.5 288.3 321.6 287.0 C 324.7 285.7 330.3 284.5 332.0 284.0 Z" fill="none" stroke="#5aaef2" stroke-width="8" stroke-linejoin="round" opacity="0.8"/>
<path d="M 332.0 284.0 C 331.9 282.3 330.9 277.7 331.6 274.0 C 332.3 270.3 333.6 265.6 336.0 262.0 C 338.4 258.4 342.0 254.7 346.0 252.4 C 350.0 250.1 355.7 248.6 360.0 248.0 C 364.3 247.4 368.5 248.2 372.0 249.0 C 375.5 249.8 378.8 251.5 381.0 252.6 C 383.2 253.7 384.3 255.3 385.0 255.8 C 385.7 254.5 387.5 250.6 389.0 248.0 C 390.5 245.4 391.7 242.9 394.0 240.0 C 396.3 237.1 399.5 233.2 403.0 230.6 C 406.5 228.0 410.5 226.0 415.0 224.6 C 419.5 223.2 425.0 222.0 430.0 222.0 C 435.0 222.0 440.8 223.1 445.0 224.6 C 449.2 226.1 452.2 228.7 455.0 231.0 C 457.8 233.3 459.5 235.9 461.7 238.4 C 463.9 240.9 466.4 243.3 468.2 246.0 C 470.0 248.7 471.2 252.3 472.5 254.7 C 473.8 257.1 475.2 259.3 475.7 260.2 C 476.4 259.9 478.0 258.7 480.0 258.2 C 482.0 257.7 484.9 257.0 487.6 257.2 C 490.3 257.4 493.1 258.0 496.0 259.4 C 498.9 260.8 502.2 263.1 505.0 265.5 C 507.8 267.9 510.8 271.2 512.6 274.0 C 514.4 276.8 515.1 280.0 515.8 282.0 C 516.5 284.0 516.7 285.5 516.9 286.2 C 518.2 286.2 522.0 285.5 524.5 286.2 C 527.0 286.9 530.0 288.4 532.0 290.4 C 534.0 292.4 535.6 295.3 536.4 298.0 C 537.2 300.7 537.4 303.7 537.0 306.6 C 536.6 309.5 535.9 312.4 534.2 315.3 C 532.5 318.2 530.0 321.2 526.6 324.0 C 523.2 326.8 519.0 329.7 513.6 332.2 C 508.2 334.7 501.0 337.3 494.1 339.0 C 487.2 340.7 479.7 341.6 472.5 342.4 C 465.3 343.2 458.7 343.4 450.8 343.6 C 442.9 343.8 433.5 344.1 425.0 343.8 C 416.5 343.5 407.5 342.6 400.0 341.8 C 392.5 341.0 386.7 340.2 380.0 339.0 C 373.3 337.8 366.7 336.5 360.0 334.8 C 353.3 333.1 346.0 331.1 340.0 328.6 C 334.0 326.1 328.3 323.1 324.0 320.0 C 319.7 316.9 316.6 313.3 314.4 310.0 C 312.2 306.7 311.2 303.0 311.0 300.0 C 310.8 297.0 311.6 294.2 313.4 292.0 C 315.2 289.8 318.5 288.3 321.6 287.0 C 324.7 285.7 330.3 284.5 332.0 284.0 Z" fill="none" stroke="#1c84e0" stroke-width="5.8" stroke-linejoin="round"/>
</g>
<g id="rack">
<polygon points="406.5,320.4 420.6,325.6 461.6,316.2 461.8,319.6 421,330 405.4,324.2" fill="#f4f4f4"/>
<path d="M405.4 324.6 L421 330.6 L461.8 320.2" stroke="#3a3a3a" stroke-width="0.8" fill="none"/>
<polygon points="395.4,200.6 416,189.6 420.4,325.6 399.4,319.4" fill="#1b1b1d"/>
<polygon points="397.4,203.4 414.4,194.6 415.4,235 398.2,240.6" fill="url(#gSideGlass)"/>
<polygon points="404,207.0 414,199.4 414,203.8 404,211.2" fill="#a2a2a2" opacity="0.85"/>
<polygon points="404,214.2 414,207.0 414,211.4 404,218.4" fill="#a2a2a2" opacity="0.85"/>
<polygon points="404,221.4 414,214.6 414,219.0 404,225.6" fill="#a2a2a2" opacity="0.85"/>
<polygon points="404,228.6 414,222.2 414,226.6 404,232.8" fill="#a2a2a2" opacity="0.85"/>
<polygon points="404,235.8 414,229.8 414,234.2 404,240.0" fill="#a2a2a2" opacity="0.85"/>
<polygon points="398.3,241 415.4,235.4 419.6,322 400.6,317.6" fill="#0d0d0f"/>
<polygon points="399.4,244 408,241.8 409,262 400.2,263.4" fill="#26262a"/>
<polygon points="415.8,189.6 461.6,195.6 461.6,316.2 420.6,325.6" fill="#141416"/>
<polygon points="421.2,197.4 454,201 454,312.6 423.6,319.6" fill="#060607"/>
<polygon points="421.6,201.4 450.6,203.8 450.6,209.2 421.6,207.0" fill="url(#gUnit)"/>
<polygon points="421.6,201.4 450.6,203.8 450.6,204.9 421.6,202.5" fill="#c6c6c6" opacity="0.7"/>
<rect x="450.9" y="204.2" width="3.3" height="4.6" fill="#1c1c1e"/>
<rect x="451.3" y="204.9" width="1.9" height="1.7" fill="#f5c822"/>
<polygon points="421.7,209.0 450.6,210.9 450.6,216.3 421.7,214.6" fill="url(#gUnit)"/>
<polygon points="421.7,209.0 450.6,210.9 450.6,212.0 421.7,210.1" fill="#c6c6c6" opacity="0.7"/>
<rect x="450.9" y="211.3" width="3.3" height="4.6" fill="#1c1c1e"/>
<rect x="451.3" y="212.0" width="1.9" height="1.7" fill="#f5c822"/>
<polygon points="421.8,216.6 450.6,217.9 450.6,223.3 421.8,222.2" fill="url(#gUnit)"/>
<polygon points="421.8,216.6 450.6,217.9 450.6,219.0 421.8,217.7" fill="#c6c6c6" opacity="0.7"/>
<rect x="450.9" y="218.3" width="3.3" height="4.6" fill="#1c1c1e"/>
<rect x="451.3" y="219.0" width="1.9" height="1.7" fill="#f5c822"/>
<polygon points="421.9,224.2 450.6,225.0 450.6,230.4 421.9,229.8" fill="url(#gUnit)"/>
<polygon points="421.9,224.2 450.6,225.0 450.6,226.1 421.9,225.3" fill="#c6c6c6" opacity="0.7"/>
<rect x="450.9" y="225.4" width="3.3" height="4.6" fill="#1c1c1e"/>
<rect x="451.3" y="226.1" width="1.9" height="1.7" fill="#f5c822"/>
<polygon points="422.0,231.8 450.6,232.1 450.6,237.5 422.0,237.4" fill="url(#gUnit)"/>
<polygon points="422.0,231.8 450.6,232.1 450.6,233.2 422.0,232.9" fill="#c6c6c6" opacity="0.7"/>
<rect x="450.9" y="232.5" width="3.3" height="4.6" fill="#1c1c1e"/>
<rect x="451.3" y="233.2" width="1.9" height="1.7" fill="#f5c822"/>
<polygon points="422.1,239.4 450.6,239.2 450.6,244.6 422.1,245.0" fill="url(#gUnit)"/>
<polygon points="422.1,239.4 450.6,239.2 450.6,240.3 422.1,240.5" fill="#c6c6c6" opacity="0.7"/>
<rect x="450.9" y="239.6" width="3.3" height="4.6" fill="#1c1c1e"/>
<rect x="451.3" y="240.3" width="1.9" height="1.7" fill="#f5c822"/>
<polygon points="422.3,247.0 450.6,246.2 450.6,251.6 422.3,252.6" fill="url(#gUnit)"/>
<polygon points="422.3,247.0 450.6,246.2 450.6,247.3 422.3,248.1" fill="#c6c6c6" opacity="0.7"/>
<rect x="450.9" y="246.6" width="3.3" height="4.6" fill="#1c1c1e"/>
<rect x="451.3" y="247.3" width="1.9" height="1.7" fill="#f5c822"/>
<polygon points="422.4,254.6 450.6,253.3 450.6,258.7 422.4,260.2" fill="url(#gUnit)"/>
<polygon points="422.4,254.6 450.6,253.3 450.6,254.4 422.4,255.7" fill="#c6c6c6" opacity="0.7"/>
<rect x="450.9" y="253.7" width="3.3" height="4.6" fill="#1c1c1e"/>
<rect x="451.3" y="254.4" width="1.9" height="1.7" fill="#f5c822"/>
<polygon points="422.5,262.2 450.6,260.4 450.6,265.8 422.5,267.8" fill="url(#gUnit)"/>
<polygon points="422.5,262.2 450.6,260.4 450.6,261.5 422.5,263.3" fill="#c6c6c6" opacity="0.7"/>
<rect x="450.9" y="260.8" width="3.3" height="4.6" fill="#1c1c1e"/>
<rect x="451.3" y="261.5" width="1.9" height="1.7" fill="#f5c822"/>
<polygon points="422.6,269.8 450.6,267.5 450.6,272.9 422.6,275.4" fill="url(#gUnit)"/>
<polygon points="422.6,269.8 450.6,267.5 450.6,268.6 422.6,270.9" fill="#c6c6c6" opacity="0.7"/>
<rect x="450.9" y="267.9" width="3.3" height="4.6" fill="#1c1c1e"/>
<rect x="451.3" y="268.6" width="1.9" height="1.7" fill="#f5c822"/>
<polygon points="422.7,277.4 450.6,274.5 450.6,279.9 422.7,283.0" fill="url(#gUnit)"/>
<polygon points="422.7,277.4 450.6,274.5 450.6,275.6 422.7,278.5" fill="#c6c6c6" opacity="0.7"/>
<rect x="450.9" y="274.9" width="3.3" height="4.6" fill="#1c1c1e"/>
<rect x="451.3" y="275.6" width="1.9" height="1.7" fill="#f5c822"/>
<polygon points="421.8,288.6 451.8,286 451.8,297.2 422,300.6" fill="#4a4a4c"/>
<polygon points="421.6,302.8 452.2,299 452.2,311.8 422,317.6" fill="#454547"/>
<path d="M425.0 289.6V299.8M425.0 303.6V316.6" stroke="#2b2b2d" stroke-width="0.9"/><path d="M427.4 289.4V299.5M427.4 303.3V316.1" stroke="#2b2b2d" stroke-width="0.9"/><path d="M429.8 289.2V299.2M429.8 303.0V315.6" stroke="#2b2b2d" stroke-width="0.9"/><path d="M432.2 288.9V299.0M432.2 302.6V315.2" stroke="#2b2b2d" stroke-width="0.9"/><path d="M434.6 288.7V298.7M434.6 302.3V314.7" stroke="#2b2b2d" stroke-width="0.9"/><path d="M437.0 288.5V298.4M437.0 302.0V314.2" stroke="#2b2b2d" stroke-width="0.9"/><path d="M439.4 288.3V298.1M439.4 301.7V313.7" stroke="#2b2b2d" stroke-width="0.9"/><path d="M441.8 288.1V297.8M441.8 301.4V313.2" stroke="#2b2b2d" stroke-width="0.9"/><path d="M444.2 287.8V297.6M444.2 301.0V312.8" stroke="#2b2b2d" stroke-width="0.9"/><path d="M446.6 287.6V297.3M446.6 300.7V312.3" stroke="#2b2b2d" stroke-width="0.9"/><path d="M449.0 287.4V297.0M449.0 300.4V311.8" stroke="#2b2b2d" stroke-width="0.9"/>
<polygon points="449,222 452,222 431,292 423,292" fill="#ffffff" opacity="0.10"/>
<polygon points="455.2,201.6 458.8,202 458.8,312.6 455.2,313.4" fill="#e4e4e4"/>
<polygon points="455.2,201.6 456.4,201.8 456.4,313.2 455.2,313.4" fill="#9a9a9a"/>
<rect x="420.3" y="246" width="2" height="9" rx="0.6" fill="#b4b4b4"/>
<path d="M395.4 200.8 L416 189.8 L461.6 195.8" stroke="#dedede" stroke-width="1.6" fill="none" stroke-linejoin="round"/>
<path d="M416.2 190V185.6" stroke="#222" stroke-width="1"/>
</g>
<g id="db">
<path d="M461.6 277.4 V316.4 A 11 3.3 0 0 0 483.6 316.4 V277.4 Z" fill="url(#gDb)"/>
<path d="M461.6 284.6 A 11 3.3 0 0 0 483.6 284.6 V287.4 A 11 3.3 0 0 1 461.6 287.4 Z" fill="url(#gGold)"/>
<path d="M461.6 283.4 A 11 3.3 0 0 0 483.6 283.4" stroke="#6e6e6e" stroke-width="0.7" fill="none" opacity="0.7"/>
<path d="M461.6 296.2 A 11 3.3 0 0 0 483.6 296.2 V299.0 A 11 3.3 0 0 1 461.6 299.0 Z" fill="url(#gGold)"/>
<path d="M461.6 295.0 A 11 3.3 0 0 0 483.6 295.0" stroke="#6e6e6e" stroke-width="0.7" fill="none" opacity="0.7"/>
<path d="M461.6 307.8 A 11 3.3 0 0 0 483.6 307.8 V310.6 A 11 3.3 0 0 1 461.6 310.6 Z" fill="url(#gGold)"/>
<path d="M461.6 306.6 A 11 3.3 0 0 0 483.6 306.6" stroke="#6e6e6e" stroke-width="0.7" fill="none" opacity="0.7"/>
<ellipse cx="472.6" cy="277.4" rx="11" ry="3.3" fill="#eeeeee" stroke="#9c9c9c" stroke-width="0.6"/>
</g>
<g id="globe">
<circle cx="391.6" cy="297.4" r="28.2" fill="url(#gGlobe)"/>
<clipPath id="gclip"><circle cx="391.6" cy="297.4" r="27.8"/></clipPath>
<g clip-path="url(#gclip)">
<ellipse cx="380" cy="283" rx="24" ry="17" fill="#7cc6ff" opacity="0.35" transform="rotate(-35 380 283)"/>
<g fill="#f7f8f9" stroke="#d9dde2" stroke-width="0.4" stroke-linejoin="round">
<polygon points="360.0,265.0 392.5,265.0 395.8,270.4 401.7,273.5 402.0,275.8 400.7,278.9 399.2,275.8 396.8,275.8 394.9,276.9 393.8,281.3 396.0,284.3 394.9,286.7 392.5,289.1 389.5,285.6 386.2,284.9 385.4,288.2 387.5,291.9 386.2,295.3 383.4,297.1 381.7,295.3 381.2,297.5 379.7,301.8 378.0,300.8 377.3,297.5 376.0,296.2 373.2,294.3 371.7,296.4 370.4,298.2 369.1,294.9 367.2,297.5 365.6,293.4 363.3,292.1 360.0,292.1"/>
<polygon points="396.6,283.2 398.1,282.1 397.9,285.0 396.3,287.2 393.8,289.1 393.2,288.4 395.5,286.1"/>
<polygon points="380.2,306.0 382.2,304.9 384.5,306.2 384.1,308.1 381.7,308.8"/>
<polygon points="393.2,308.3 395.8,308.1 400.1,309.6 403.6,312.2 401.2,312.5 396.8,311.0 393.8,310.0"/>
<polygon points="384.1,318.1 387.1,315.9 391.4,314.6 394.7,315.9 396.8,314.3 399.2,315.9 401.7,318.1 402.5,320.8 400.1,323.0 395.8,322.4 392.5,321.3 388.2,322.6 384.7,320.8" fill="#e9e6e0"/>
<polygon points="387.7,302.1 389.0,302.7 388.6,304.7 387.7,303.8"/>
<polygon points="385.8,307.5 387.1,307.9 386.7,309.6 385.8,309.0"/>
<polygon points="386.1,297.5 387.1,297.7 386.9,299.0 386.1,298.6"/>
</g>
<polyline points="373.0,303.1 376.3,306.7 380.4,310.5" fill="none" stroke="#f4f6f8" stroke-width="0.8" stroke-linecap="round"/>
<polyline points="380.8,311.3 386.0,311.8" fill="none" stroke="#f4f6f8" stroke-width="0.7" stroke-linecap="round"/>
<ellipse cx="377" cy="279" rx="17" ry="11" fill="#c8ccd2" opacity="0.25" transform="rotate(-40 377 279)"/>
</g>
<circle cx="391.6" cy="297.4" r="28" fill="none" stroke="#0b52b8" stroke-width="0.9" opacity="0.55"/>
</g>
<g transform="translate(194 446)">
<use href="#sig" transform="translate(0 0)"/>
</g>
<path transform="translate(169 428.3)" d="M 22 0 A 22 22 0 1 1 -22 0 A 22 22 0 1 1 22 0 Z M 14.5 0 A 14.5 14.5 0 1 0 -14.5 0 A 14.5 14.5 0 1 0 14.5 0 Z" fill="#3a393b" fill-rule="evenodd"/>
<g transform="translate(300.2 446.4)">
<use href="#ant" transform="translate(0 0) translate(-3.2 18.6) scale(1) translate(3.2 -18.6)"/>
<use href="#sig" transform="translate(-10.8 0.2)"/>
</g>
<path transform="translate(275.4 428.3)" d="M 22 0 A 22 22 0 1 1 -22 0 A 22 22 0 1 1 22 0 Z M 14.5 0 A 14.5 14.5 0 1 0 -14.5 0 A 14.5 14.5 0 1 0 14.5 0 Z" fill="#3d63ad" fill-rule="evenodd"/>
<g transform="translate(419 446.3)">
<use href="#sig" transform="translate(-1.9 -0.8)"/>
</g>
<path transform="translate(403.3 435)" d="M 12.8 0 A 12.8 12.8 0 1 1 -12.8 0 A 12.8 12.8 0 1 1 12.8 0 Z M 8 0 A 8 8 0 1 0 -8 0 A 8 8 0 1 0 8 0 Z" fill="#3a393b" fill-rule="evenodd"/>
<g transform="translate(522.4 446.6)">
<use href="#ant" transform="translate(2.6 4.2) translate(-3.2 18.6) scale(0.86) translate(3.2 -18.6)"/>
<use href="#sig" transform="translate(-10.9 -0.6)"/>
</g>
<path transform="translate(508.3 435)" d="M 12.8 0 A 12.8 12.8 0 1 1 -12.8 0 A 12.8 12.8 0 1 1 12.8 0 Z M 8 0 A 8 8 0 1 0 -8 0 A 8 8 0 1 0 8 0 Z" fill="#3a393b" fill-rule="evenodd"/>
<g transform="translate(618.6 446.8)">
<use href="#sig" transform="translate(-0.4 -0.9)"/>
</g>
<path transform="translate(603.3 435)" d="M 12.8 0 A 12.8 12.8 0 1 1 -12.8 0 A 12.8 12.8 0 1 1 12.8 0 Z M 8 0 A 8 8 0 1 0 -8 0 A 8 8 0 1 0 8 0 Z" fill="#3d63ad" fill-rule="evenodd"/>
<g transform="translate(685.3 530.4)">
<use href="#sig" transform="translate(-0.2 -4.3)"/>
</g>
<path transform="translate(670.5 518.8)" d="M 12.8 0 A 12.8 12.8 0 1 1 -12.8 0 A 12.8 12.8 0 1 1 12.8 0 Z M 8 0 A 8 8 0 1 0 -8 0 A 8 8 0 1 0 8 0 Z" fill="#3a393b" fill-rule="evenodd"/>
<path d="M642 516.4 H735.2 V547" stroke="#5b4c4b" stroke-width="1.1" fill="none"/>
<path d="M727.4 547.4H743.4M730.6 551.8H740.4M733.4 556H737.8" stroke="#1a1a1a" stroke-width="1.3" fill="none"/>
<g fill="none" stroke-width="2.3">
<path d="M160 517 V363.1 H742" stroke="#fdb240"/>
<path d="M164.5 517 V372.9 H742" stroke="#2cb358"/>
<path d="M168.8 517 V382.5 H742" stroke="#f7565a"/>
<path d="M173.3 517 V391.5 H742" stroke="#5450ac"/>
<path d="M271.2 363.1 V531" stroke="#fdb240"/>
<path d="M275.7 372.9 V531" stroke="#2cb358"/>
<path d="M280.1 382.5 V531" stroke="#f7565a"/>
<path d="M284.8 391.5 V528" stroke="#5450ac"/>
<path d="M399.7 363.1 V519" stroke="#fdb240"/>
<path d="M403.9 391.5 V519" stroke="#5450ac"/>
<path d="M505.3 372.9 V518" stroke="#2cb358"/>
<path d="M510 391.5 V518" stroke="#5450ac"/>
<path d="M602.8 382.5 V522" stroke="#f7565a"/>
<path d="M616.4 391.5 V517" stroke="#5450ac"/>
</g>
<circle cx="271.2" cy="362.2" r="2.1" fill="#fbd9a0"/>
<circle cx="275.7" cy="372.0" r="2.1" fill="#8fd39c"/>
<circle cx="280.1" cy="381.6" r="2.1" fill="#f59a90"/>
<circle cx="284.8" cy="390.4" r="2.1" fill="#7f7cc8"/>
<circle cx="399.7" cy="362.2" r="2.1" fill="#fbd9a0"/>
<circle cx="403.9" cy="390.4" r="2.1" fill="#7f7cc8"/>
<circle cx="505.3" cy="372.0" r="2.1" fill="#8fd39c"/>
<circle cx="510" cy="390.4" r="2.1" fill="#7f7cc8"/>
<circle cx="602.8" cy="381.6" r="2.1" fill="#f59a90"/>
<circle cx="616.4" cy="390.4" r="2.1" fill="#7f7cc8"/>
<g font-size="7.5" font-weight="bold" fill="#2a2a2a" text-anchor="middle" font-family="'Liberation Sans',sans-serif">
<text transform="translate(189.1 361.8) scale(0.8 1)">A</text><text transform="translate(189.1 371.6) scale(0.8 1)">B</text><text transform="translate(189.1 381.5) scale(0.8 1)">C</text><text transform="translate(189.3 389.9) scale(0.8 1)">N</text>
</g>
<g transform="translate(169 428.3)">
<path d="M -0.77 21.99 A 22 22 0 0 1 -20.67 -7.52 L -13.63 -4.96 A 14.5 14.5 0 0 0 -0.51 14.49 Z" fill="#3a393b"/>
<path d="M 22.47 -10.01 L 23.47 -6.57 L 23.95 -3.06 L 23.93 0.45 L 23.41 3.89 L 22.41 7.19 L 20.96 10.29 L 19.10 13.13 L 16.87 15.66 L 14.33 17.83 L 11.51 19.60 L 8.50 20.96 L 5.34 21.88 L 2.10 22.34 L -1.17 22.37 L -0.74 14.18 A 14.2 14.2 0 0 0 12.97 -5.78 Z" fill="#3a393b"/>
<path d="M 18.84 -6.86 A 20.05 20.05 0 0 1 0.70 20.04" fill="none" stroke="#7d7d80" stroke-width="0.5"/>
</g>
<g transform="translate(194 446)">
<polygon points="-3.4,-19.2 14.0,-19.2 13.8,-16.1 9.2,-11.8 10.0,-6.5 12.2,-5.8 4.0,0.0 -6.0,-8.0" fill="#3a393b"/>
<polygon points="-3.0,-19.0 2.0,-19.0 10.0,-6.0 12.0,-6.0 -3.5,11.5 -13.8,1.2" fill="#3a393b"/>
<use href="#cbody" transform="rotate(0) scale(1)"/>
</g>
<g transform="translate(275.4 428.3)">
<path d="M -0.77 21.99 A 22 22 0 0 1 -20.67 -7.52 L -13.63 -4.96 A 14.5 14.5 0 0 0 -0.51 14.49 Z" fill="#3d63ad"/>
<path d="M 22.47 -10.01 L 23.47 -6.57 L 23.95 -3.06 L 23.93 0.45 L 23.41 3.89 L 22.41 7.19 L 20.96 10.29 L 19.10 13.13 L 16.87 15.66 L 14.33 17.83 L 11.51 19.60 L 8.50 20.96 L 5.34 21.88 L 2.10 22.34 L -1.17 22.37 L -0.74 14.18 A 14.2 14.2 0 0 0 12.97 -5.78 Z" fill="#3a393b"/>
<path d="M 18.84 -6.86 A 20.05 20.05 0 0 1 0.70 20.04" fill="none" stroke="#7d7d80" stroke-width="0.5"/>
</g>
<g transform="translate(300.2 446.4)">
<polygon points="-3.4,-19.2 14.0,-19.2 13.8,-16.1 9.2,-11.8 10.0,-6.5 12.2,-5.8 4.0,0.0 -6.0,-8.0" fill="#3d63ad"/>
<polygon points="-3.0,-19.0 2.0,-19.0 10.0,-6.0 12.0,-6.0 -3.5,11.5 -13.8,1.2" fill="#3a393b"/>
<use href="#cbody" transform="rotate(0) scale(1)"/>
</g>
<g transform="translate(403.3 435)">
<path d="M -0.45 12.79 A 12.8 12.8 0 0 1 -12.03 -4.38 L -7.52 -2.74 A 8 8 0 0 0 -0.28 8.00 Z" fill="#3a393b"/>
<path d="M 13.08 -5.82 L 13.81 -3.87 L 14.10 -1.80 L 14.09 0.26 L 13.78 2.29 L 13.20 4.23 L 12.35 6.06 L 11.25 7.73 L 9.94 9.22 L 8.44 10.50 L 6.78 11.55 L 5.01 12.35 L 3.15 12.89 L 1.23 13.17 L -0.69 13.18 L -0.40 7.69 A 7.7 7.7 0 0 0 7.03 -3.13 Z" fill="#3a393b"/>
<path d="M 11.46 -4.17 A 12.200000000000001 12.200000000000001 0 0 1 0.43 12.19" fill="none" stroke="#7d7d80" stroke-width="0.5"/>
</g>
<g transform="translate(419 446.3)">
<polygon points="-3.8,-15.2 11.2,-15.2 11.0,-12.6 7.6,-10.6 8.8,-6.4 11.4,-5.2 4.0,0.0 -6.0,-8.0" fill="#3a393b"/>
<polygon points="-3.6,-15.0 1.4,-15.0 8.8,-6.0 11.4,-5.4 -3.5,11.2 -13.1,1.9" fill="#3a393b"/>
<use href="#cbody" transform="rotate(2.2) scale(0.93)"/>
</g>
<g transform="translate(508.3 435)">
<path d="M -0.45 12.79 A 12.8 12.8 0 0 1 -12.03 -4.38 L -7.52 -2.74 A 8 8 0 0 0 -0.28 8.00 Z" fill="#3a393b"/>
<path d="M 13.08 -5.82 L 13.81 -3.87 L 14.10 -1.80 L 14.09 0.26 L 13.78 2.29 L 13.20 4.23 L 12.35 6.06 L 11.25 7.73 L 9.94 9.22 L 8.44 10.50 L 6.78 11.55 L 5.01 12.35 L 3.15 12.89 L 1.23 13.17 L -0.69 13.18 L -0.40 7.69 A 7.7 7.7 0 0 0 7.03 -3.13 Z" fill="#3a393b"/>
<path d="M 11.46 -4.17 A 12.200000000000001 12.200000000000001 0 0 1 0.43 12.19" fill="none" stroke="#7d7d80" stroke-width="0.5"/>
</g>
<g transform="translate(522.4 446.6)">
<polygon points="-3.8,-15.2 11.2,-15.2 11.0,-12.6 7.6,-10.6 8.8,-6.4 11.4,-5.2 4.0,0.0 -6.0,-8.0" fill="#3a393b"/>
<polygon points="-3.6,-15.0 1.4,-15.0 8.8,-6.0 11.4,-5.4 -3.5,11.2 -13.1,1.9" fill="#3a393b"/>
<use href="#cbody" transform="rotate(2.2) scale(0.93)"/>
</g>
<g transform="translate(603.3 435)">
<path d="M -0.45 12.79 A 12.8 12.8 0 0 1 -12.03 -4.38 L -7.52 -2.74 A 8 8 0 0 0 -0.28 8.00 Z" fill="#3d63ad"/>
<path d="M 13.08 -5.82 L 13.81 -3.87 L 14.10 -1.80 L 14.09 0.26 L 13.78 2.29 L 13.20 4.23 L 12.35 6.06 L 11.25 7.73 L 9.94 9.22 L 8.44 10.50 L 6.78 11.55 L 5.01 12.35 L 3.15 12.89 L 1.23 13.17 L -0.69 13.18 L -0.40 7.69 A 7.7 7.7 0 0 0 7.03 -3.13 Z" fill="#3a393b"/>
<path d="M 11.46 -4.17 A 12.200000000000001 12.200000000000001 0 0 1 0.43 12.19" fill="none" stroke="#7d7d80" stroke-width="0.5"/>
</g>
<g transform="translate(618.6 446.8)">
<polygon points="-3.8,-15.2 11.2,-15.2 11.0,-12.6 7.6,-10.6 8.8,-6.4 11.4,-5.2 4.0,0.0 -6.0,-8.0" fill="#3d63ad"/>
<polygon points="-3.6,-15.0 1.4,-15.0 8.8,-6.0 11.4,-5.4 -3.5,11.2 -13.1,1.9" fill="#3a393b"/>
<use href="#cbody" transform="rotate(2.2) scale(0.93)"/>
</g>
<g transform="translate(670.5 518.8)">
<path d="M -0.45 12.79 A 12.8 12.8 0 0 1 -12.03 -4.38 L -7.52 -2.74 A 8 8 0 0 0 -0.28 8.00 Z" fill="#3a393b"/>
<path d="M 13.08 -5.82 L 13.81 -3.87 L 14.10 -1.80 L 14.09 0.26 L 13.78 2.29 L 13.20 4.23 L 12.35 6.06 L 11.25 7.73 L 9.94 9.22 L 8.44 10.50 L 6.78 11.55 L 5.01 12.35 L 3.15 12.89 L 1.23 13.17 L -0.69 13.18 L -0.40 7.69 A 7.7 7.7 0 0 0 7.03 -3.13 Z" fill="#3a393b"/>
<path d="M 11.46 -4.17 A 12.200000000000001 12.200000000000001 0 0 1 0.43 12.19" fill="none" stroke="#7d7d80" stroke-width="0.5"/>
</g>
<g transform="translate(685.3 530.4)">
<polygon points="-3.8,-15.2 11.2,-15.2 11.0,-12.6 7.6,-10.6 8.8,-6.4 11.4,-5.2 4.0,0.0 -6.0,-8.0" fill="#3a393b"/>
<polygon points="-3.6,-15.0 1.4,-15.0 8.8,-6.0 11.4,-5.4 -3.5,11.2 -13.1,1.9" fill="#3a393b"/>
<use href="#cbody" transform="rotate(2.2) scale(0.93)"/>
</g>
<g id="xfmr">
<path d="M116 495.4 L133 494 L133 507.4 L118 508.4 Q111.2 508.6 111.2 502 Q111.2 495.8 116 495.4 Z" fill="#fbfbfb" stroke="#2a2a2a" stroke-width="0.9"/>
<path d="M115.6 495.6 L116 493.6 L117.6 493.4 L117.8 495.2" fill="#fbfbfb" stroke="#2a2a2a" stroke-width="0.7"/>
<path d="M116.4 508 L118.4 518.8 L124.6 518.4 L125 507.6 Z" fill="#fff" stroke="#2a2a2a" stroke-width="0.8"/>
<path d="M115.2 503 V508 M123.8 501 V507" stroke="#2a2a2a" stroke-width="0.8"/>
<path d="M126.6 508 L128 517.6 M129.6 507.8 L130.2 517.4 M133.6 508.6 V518 M136.6 507 V518.6 M140 506.6 V518.6" stroke="#2a2a2a" stroke-width="0.9" fill="none"/>
<path d="M128 513 H133.6 V517.4 H128.6 Z" fill="#fff" stroke="#2a2a2a" stroke-width="0.7"/>
<circle cx="137.2" cy="500" r="6.6" fill="#fff" stroke="#2a2a2a" stroke-width="0.9"/>
<circle cx="137.2" cy="500" r="5.6" fill="none" stroke="#2a2a2a" stroke-width="1.5" stroke-dasharray="0.8 1.15"/>
<path d="M137.2 495.4V504.6" stroke="#3a3a3a" stroke-width="1.1"/>
<path d="M145.2 510.4 V519" stroke="#222" stroke-width="1.2"/><path d="M143.7 513.2H146.7M143.5 515.2H146.89999999999998M143.29999999999998 517.2H147.1" stroke="#222" stroke-width="1"/>
<path d="M150 510.4 V519" stroke="#222" stroke-width="1.2"/><path d="M148.5 513.2H151.5M148.3 515.2H151.7M148.1 517.2H151.9" stroke="#222" stroke-width="1"/>
<path d="M155.2 510.4 V519" stroke="#222" stroke-width="1.2"/><path d="M153.7 513.2H156.7M153.5 515.2H156.89999999999998M153.29999999999998 517.2H157.1" stroke="#222" stroke-width="1"/>
<path d="M160 516 V520" stroke="#222" stroke-width="1.6"/>
<path d="M164.5 516 V520" stroke="#222" stroke-width="1.6"/>
<path d="M168.8 516 V520" stroke="#222" stroke-width="1.6"/>
<path d="M173.3 516 V520" stroke="#222" stroke-width="1.6"/>
<path d="M128.6 519.2 L181 520.4 Q186 520.8 186 525.6 L186 548.6 Q186 552.6 182 553.6 L158.4 558.8 L128.6 558.8 Q122.6 558.8 122.6 552.8 L122.6 525.2 Q122.6 519.2 128.6 519.2 Z" fill="#3d3d3d"/>
<path d="M158.6 521.2 L181.4 521.8 Q185 522.2 185 525.8 L185 548.4 Q185 551.6 181.6 552.6 L158.6 557.6 Z" fill="url(#fins)"/>
<path d="M123.6 526 Q123.6 520.6 129.6 520.6 L129.6 557.6 Q123.6 557.6 123.6 552.6 Z" fill="url(#fins)" opacity="0.5"/>
<path d="M130 518.6 L176 519.4 L176 521.4 L130 521 Z" fill="#dcdcdc" stroke="#333" stroke-width="0.5"/>
<rect x="131.4" y="523" width="25.6" height="33.8" rx="6" fill="#5a5a5a" stroke="#f6f6f6" stroke-width="3.2"/>
<rect x="131.4" y="523" width="25.6" height="33.8" rx="6" fill="none" stroke="#666" stroke-width="0.5"/>
<rect x="135.8" y="527.2" width="16.8" height="25.4" rx="3.4" fill="#f1f1f1" stroke="#444" stroke-width="0.6"/>
<path d="M135.8 533.4H152.6M135.8 546.4H152.6" stroke="#444" stroke-width="0.7"/>
<path d="M122.6 541.6 H158.4 L186 537.8" stroke="#262626" stroke-width="1.6" fill="none"/>
<rect x="143.7" y="520" width="4" height="43.4" fill="#f4f4f4" stroke="#444" stroke-width="0.6"/>
<path d="M139.6 539 H151.8 M139.6 550.6 H151.8" stroke="#555" stroke-width="0.6"/>
<rect x="167.8" y="533.4" width="7.2" height="4.8" fill="#fff" stroke="#1c1c1c" stroke-width="0.7"/><path d="M168.8 535.8H174" stroke="#1c1c1c" stroke-width="1.3"/>
<path d="M139.8 558.6 L158.4 563 L158.4 565.6 L139.8 561.2 Z M165 557.8 L175 560 L175 562.4 L165 560.2 Z" fill="#f2f2f2" stroke="#333" stroke-width="0.7"/>
</g>
<g id="house">
<polygon points="243.6,543 277.4,543 277.4,561.8 243.6,561.8" fill="#fff"/>
<polygon points="278,541 296.4,520 317,541 317,561.8 278,561.8" fill="#fff"/>
<polygon points="241.8,543.8 255.6,530.6 283,530.6 276.6,543.8" fill="#2c2425"/>
<path d="M277.6 543.4 L296.4 517.4 L321 541.6" stroke="#2c2425" stroke-width="4.6" fill="none" stroke-linejoin="miter"/>
<rect x="309.2" y="523.8" width="5.2" height="12" fill="#2c2425"/>
<path d="M244.2 542.6 V560.4 H316.6 V540" stroke="#2c2425" stroke-width="1.8" fill="none"/>
<rect x="243.4" y="558.4" width="74" height="3.4" fill="#2c2425"/>
<rect x="276.2" y="542" width="2.4" height="18" fill="#2c2425"/>
<rect x="250.2" y="547.8" width="8.4" height="11" fill="#2c2425"/><rect x="260.8" y="547.8" width="9" height="11" fill="#2c2425"/>
<rect x="285.2" y="546.8" width="6.4" height="6" fill="#a9a9a9" stroke="#c6c6c6" stroke-width="0.5"/>
<rect x="300.2" y="545.8" width="7.6" height="13.4" fill="#2c2425"/>
</g>
<g id="wall">
<rect x="374" y="518" width="56.4" height="44" fill="url(#brick)"/>
<polygon points="392.4,523.4 395.6,522 412.4,522 412.8,524.6 410.6,527.4 411,531.4 407,534 406.4,538 411,541 409,546 411.8,549.6 412.4,554 409.4,556.2 396,556.2 392.4,553.6" fill="#101010"/>
<polygon points="393,523.8 396,522.6 409.8,522.6 409.6,527 410,531 406,533.6 405.4,538 409.6,541.2 407.8,546 409.4,549.6 406.2,551.2 405.6,553.8 396.2,553.8 393,551.6" fill="#fdfdfd"/>
<path d="M396.4 523 V553.6 M401.8 523 V553.4" stroke="#8a8a8a" stroke-width="0.7"/>
<path d="M396.4 542 L409 538.8" stroke="#333" stroke-width="0.7"/>
<polygon points="408.7,525.2 414.7,527.8 416.1,520.4 418.1,528.3 423.6,517.7 420.9,528.3 428.9,522.6 422.0,531.0 433.7,530.0 423.6,533.5 430.7,536.6 421.9,536.0 424.9,541.5 420.0,539.0 418.8,545.0 416.9,538.6 412.6,547.6 414.3,538.8 406.0,546.3 413.2,536.4 398.1,541.5 411.4,535.1 407.3,534.9 412.4,531.8" fill="#ffffff" stroke="#2a2a2a" stroke-width="0.45" stroke-linejoin="miter"/>
<path d="M421 527 L425 521 M423.4 531.4 L430 528.6 M413 539 L408.6 544.6 M418 540.6 L417.6 546" stroke="#2a2a2a" stroke-width="0.5" fill="none"/>
</g>
<g id="meter">
<path d="M486 521.6 L490 517 H527.6 L531.6 521.6 V563.6 H486 Z" fill="#efefef" stroke="#c3c3c3" stroke-width="0.8"/>
<rect x="490" y="519.6" width="37.6" height="30.6" fill="#f6f6f6" stroke="#d2d2d2" stroke-width="0.6"/>
<rect x="492.8" y="521.4" width="30" height="26" fill="#ffffff" stroke="#cfcfcf" stroke-width="0.6"/>
<rect x="494.8" y="524.6" width="26" height="6.4" fill="#f1f1f1" stroke="#9c9c9c" stroke-width="0.6"/>
<text x="507.8" y="530.2" font-size="5.6" font-weight="bold" fill="#3a3a3a" text-anchor="middle" textLength="23" lengthAdjust="spacingAndGlyphs" font-family="'Liberation Sans',sans-serif">324150</text>
<text x="507.4" y="541.8" font-size="7.6" font-weight="bold" fill="#151515" text-anchor="middle" font-family="'Liberation Sans','Noto Sans CJK SC',sans-serif">电表箱</text>
<rect x="486.4" y="556" width="44.8" height="7.2" fill="#f7f7f7" stroke="#cfcfcf" stroke-width="0.6"/>
<text x="508.8" y="561.6" font-size="3.6" fill="#a0a0a0" text-anchor="middle" textLength="40" font-family="'Liberation Sans',sans-serif">000 000 000 04</text>
<circle cx="508.4" cy="518.8" r="1" fill="#a8a8a8"/>
</g>
<g id="motor">
<polygon points="596,547.6 637.4,535.4 649.6,545.6 649.6,548 614.8,562.6 596,550" fill="#fff" stroke="#111" stroke-width="0.9" stroke-linejoin="round"/>
<polygon points="597.2,547.4 637,536.2 648.2,545.6 614.8,559.6" fill="#fdfdfd" stroke="#111" stroke-width="0.6"/>
<path d="M606 548 L618 554 M608.4 546.8 L620.4 552.8 M611 545.8 L622.6 551.6" stroke="#9a9a9a" stroke-width="0.5"/>
<polygon points="621,537.4 632.4,535 644,543.4 618.4,554.4 619.4,544" fill="#080808"/>
<path d="M598.4 523.4 L634.4 511.8 Q643.6 510.4 644.2 520.6 Q644.4 528.6 638.6 530.6 L608.4 542 Z" fill="#fdfdfd" stroke="#0c0c0c" stroke-width="1.5" stroke-linejoin="round"/>
<path d="M600 522.4 L634.6 511.4" stroke="#0c0c0c" stroke-width="2.4"/>
<polygon points="616.2,527 632.6,521.8 633.2,527 617.4,532.4" fill="#080808"/>
<ellipse cx="600.8" cy="533" rx="9" ry="10.8" fill="#fff" stroke="#0c0c0c" stroke-width="1.6" transform="rotate(-14 600.8 533)"/>
<ellipse cx="600.8" cy="533" rx="6" ry="7.6" fill="none" stroke="#0c0c0c" stroke-width="2.6" stroke-dasharray="8.2 2.6" transform="rotate(-14 600.8 533)"/>
<ellipse cx="600.8" cy="533" rx="2.6" ry="3.2" fill="#cfcfcf" stroke="#555" stroke-width="0.5" transform="rotate(-14 600.8 533)"/>
</g>
</svg>
<div class="lbl" style="left:853.6px;top:99.5px;">客户端</div>
<div class="lbl" style="left:865.6px;top:255px;">云端</div>
<div class="lbl" style="left:841.6px;top:450.4px;">监测终端</div>
</body></html>
